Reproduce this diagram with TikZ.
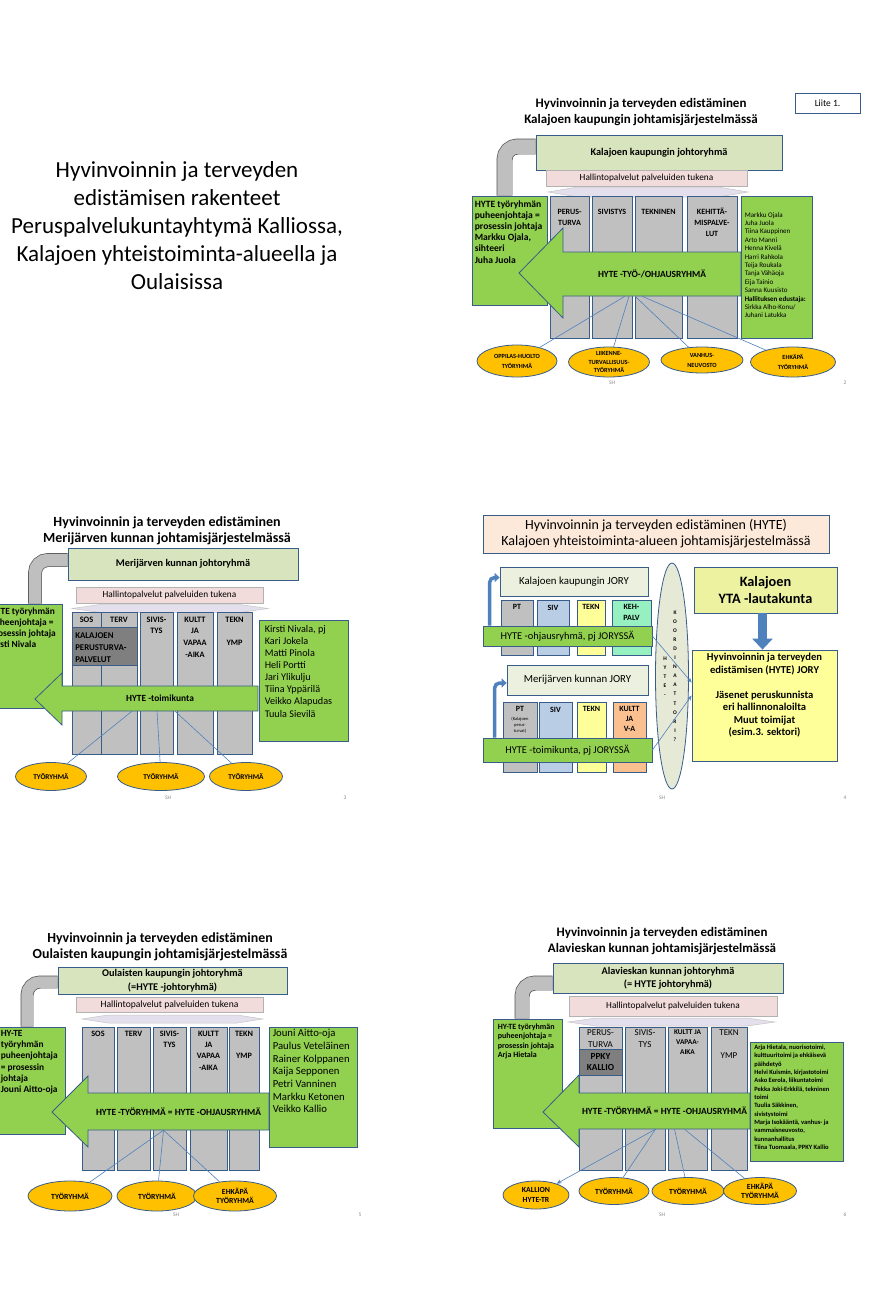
\documentclass[tikz,border=0pt]{standalone}
\usepackage{fontspec}
\setmainfont{Carlito}
\usepackage{tikz}
\usetikzlibrary{arrows.meta, positioning, shapes.geometric}

\definecolor{edge}{HTML}{385D8A}
\definecolor{hygreen}{HTML}{92D050}
\definecolor{jrgreen}{HTML}{D7E4BD}
\definecolor{hallpink}{HTML}{F2DCDB}
\definecolor{colgray}{HTML}{C0C0C0}
\definecolor{darkbox}{HTML}{7F7F7F}
\definecolor{lav}{HTML}{E4DFEC}
\definecolor{ellorange}{HTML}{FFC000}
\definecolor{lineblue}{HTML}{4F81BD}
\definecolor{pipegray}{HTML}{BFBFBF}
\definecolor{peach}{HTML}{FDE9D9}
\definecolor{jorygreen}{HTML}{EBF1DE}
\definecolor{sivblue}{HTML}{B9CDE5}
\definecolor{teknyellow}{HTML}{FFFF99}
\definecolor{kehmint}{HTML}{97F0C0}
\definecolor{kultorange}{HTML}{FAC090}
\definecolor{ytayellow}{HTML}{EDF2A0}
\definecolor{ovalfill}{HTML}{E6E9D6}
\definecolor{footgray}{HTML}{8A8A8A}

\newcommand{\fsize}[2]{\fontsize{#1}{#2}\selectfont}

\begin{document}
\begin{tikzpicture}[
    x=1pt, y=-1pt,
    every node/.style={inner sep=0pt},
    spot/.style args={#1/#2/#3/#4}{at={({(#1+#3)/2},{(#2+#4)/2})}, minimum width={(#3-#1)*1pt}, minimum height={(#4-#2)*1pt}},
    box/.style={rectangle, draw=edge, line width=0.8pt},
    titlesm/.style={font=\fsize{13}{16}\bfseries, align=center},
    jrbox/.style={box, fill=jrgreen, font=\fsize{10.3}{13.5}\bfseries, align=center},
    hallbox/.style={rectangle, draw=gray!60, line width=0.6pt, fill=hallpink, font=\fsize{9.3}{10}},
    hallarrow/.style={fill=lav, draw=gray!45, line width=0.5pt},
    colbox/.style={box, fill=colgray},
    collab/.style={font=\fsize{8}{11}\bfseries, align=center},
    greenbox/.style={box, fill=hygreen},
    leadtext/.style={font=\fsize{9.6}{11.2}\bfseries, align=left},
    bigarrow/.style={fill=hygreen, draw=edge, line width=0.8pt, line join=miter},
    arrowtext/.style={font=\fsize{9.4}{10}\bfseries},
    group/.style={ellipse, draw=edge, fill=ellorange, line width=0.8pt},
    grouptext/.style={font=\fsize{6.3}{10}\bfseries, align=center},
    conn/.style={draw=lineblue, line width=0.6pt},
    pipe/.style={draw=gray!65!black, line width=0.7pt, double=pipegray, rounded corners=13pt},
    bluepipe/.style={draw=lineblue, line width=3.5pt, rounded corners=5pt, -{Triangle[length=5pt, width=9pt]}},
    footer/.style={font=\fsize{5.5}{6}, text=footgray}
]
\path[use as bounding box, fill=white] (0,0) rectangle (874,1303);

% Slide 1
\node[font=\fsize{23}{28}, align=center] (cover) at (177,226) {Hyvinvoinnin ja terveyden\\edistämisen rakenteet\\Peruspalvelukuntayhtymä Kalliossa,\\Kalajoen yhteistoiminta-alueella ja\\Oulaisissa};

% Slide 2
\node[titlesm] (title2) at (641,112) {Hyvinvoinnin ja terveyden edistäminen\\Kalajoen kaupungin johtamisjärjestelmässä};
\node[box, spot=795/93/860/113, font=\fsize{9.5}{10}] (liite) {Liite 1.};
\node[jrbox, spot=536/135/782/170] (jr2) {Kalajoen kaupungin johtoryhmä};
\node[hallbox, spot=546/170/747/186] (hall2) {Hallintopalvelut palveluiden tukena};
\draw[hallarrow] (548,192) -- (578,187) -- (718,187) -- (748,192) -- (718,197) -- (578,197) -- cycle;
\node[colbox, spot=550/196/589/338] (pt2) {};
\node[colbox, spot=592/196/632/338] (siv2) {};
\node[colbox, spot=635/196/682/338] (tekn2) {};
\node[colbox, spot=687/196/737/338] (keh2) {};
\node[collab, below=13.5pt of pt2.north] {PERUS-\\TURVA};
\node[collab, below=13.5pt of siv2.north] {SIVISTYS};
\node[collab, below=13.5pt of tekn2.north] {TEKNINEN};
\node[collab, below=12.5pt of keh2.north] {KEHITTÄ-\\MISPALVE-\\LUT};
\node[greenbox, spot=472/196/547/305] (lead2) {};
\node[leadtext, below right=4.5pt and 3pt of lead2.north west] {HYTE työryhmän\\puheenjohtaja =\\prosessin johtaja\\Markku Ojala,\\sihteeri\\Juha Juola};
\draw[pipe, double distance=14.5pt] ([xshift=-5pt]lead2.north) |- ([yshift=6pt]jr2.west);
\draw[bigarrow] (741,252) -- (563,252) -- (563,228) -- (519,273) -- (563,318) -- (563,296) -- (741,296) -- cycle;
\node[arrowtext, spot=563/252/741/296] (body2) {HYTE -TYÖ-/OHJAUSRYHMÄ};
\node[group, minimum width=80pt, minimum height=32pt, label={[grouptext]center:{OPPILAS-HUOLTO\\TYÖRYHMÄ}}] (op2) at (517,361) {};
\node[group, minimum width=81pt, minimum height=30pt, label={[grouptext, font=\fsize{6.3}{8.5}\bfseries]center:{LIIKENNE-\\TURVALLISUUS-\\TYÖRYHMÄ}}] (lt2) at (609,362) {};
\node[group, minimum width=82pt, minimum height=26pt, label={[grouptext]center:{VANHUS-\\NEUVOSTO}}] (vn2) at (702,360) {};
\node[group, minimum width=85pt, minimum height=30pt, label={[grouptext]center:{EHKÄPÄ\\TYÖRYHMÄ}}] (eh2) at (793,362) {};
\draw[conn] ([xshift=-27pt]body2.south) -- (op2);
\draw[conn] ([xshift=-23pt]body2.south) -- (lt2);
\draw[conn] ([xshift=-17pt]body2.south) -- (vn2);
\draw[conn] ([xshift=-10pt]body2.south) -- (eh2);
\node[greenbox, spot=741/196/812/338] (mem2) {};
\node[align=left, font=\fsize{7}{8.4}, below right=16.5pt and 4pt of mem2.north west] {Markku Ojala\\Juha Juola\\Tiina Kauppinen\\Arto Manni\\Henna Kivelä\\Harri Rahkola\\Teija Roukala\\Tanja Vähäoja\\Eija Tainio\\Sanna Kuusisto\\\textbf{Hallituksen edustaja:}\\Sirkka Alho-Konu/\\Juhani Latukka};
\node[footer] (sh2) at (612,383) {SH};
\node[footer] (no2) at (845,383) {2};

% Slide 3
\node[titlesm, font=\fsize{14}{16}\bfseries] (title3) at (167,531) {Hyvinvoinnin ja terveyden edistäminen\\Merijärven kunnan johtamisjärjestelmässä};
\node[jrbox, spot=68/548/298/580] (jr3) {Merijärven kunnan johtoryhmä};
\node[hallbox, spot=76/587/263/603] (hall3) {Hallintopalvelut palveluiden tukena};
\draw[hallarrow] (72,608.5) -- (100,604.5) -- (240,604.5) -- (268,608.5) -- (240,612.5) -- (100,612.5) -- cycle;
\node[colbox, spot=72/612/101/754] (sos3) {};
\node[colbox, spot=101/612/137/754] (terv3) {};
\node[colbox, spot=140/612/173/754] (siv3) {};
\node[colbox, spot=177/612/213/754] (kult3) {};
\node[colbox, spot=217/612/252/754] (tekn3) {};
\node[box, fill=darkbox, spot=72/627/137/665] (kpp3) {};
\node[collab, font=\fsize{8.8}{12}\bfseries, align=left, below right=5.5pt and 3.5pt of kpp3.north west] {KALAJOEN\\PERUSTURVA-\\PALVELUT};
\node[collab, font=\fsize{8.3}{11.7}\bfseries, below=5pt of sos3.north] {SOS};
\node[collab, font=\fsize{8.3}{11.7}\bfseries, below=5pt of terv3.north] {TERV};
\node[collab, font=\fsize{8.3}{11.7}\bfseries, below=5pt of siv3.north] {SIVIS-\\TYS};
\node[collab, font=\fsize{8.3}{11.7}\bfseries, below=5pt of kult3.north] {KULTT\\JA\\VAPAA\\-AIKA};
\node[collab, font=\fsize{8.3}{11.7}\bfseries, below=5pt of tekn3.north] {TEKN\\[11.7pt]YMP};
\node[greenbox, spot=-20/604/62/708] (lead3) {};
\node[leadtext, font=\fsize{9.4}{11}\bfseries, below right=4.5pt and 10pt of lead3.north west] {HYTE työryhmän\\puheenjohtaja =\\prosessin johtaja\\Kirsti Nivala};
\draw[pipe, double distance=12.5pt] ([xshift=14pt]lead3.north) |- ([yshift=4pt]jr3.west);
\draw[bigarrow] (258,686) -- (62,686) -- (62,673) -- (35,699) -- (62,725) -- (62,711) -- (258,711) -- cycle;
\node[arrowtext, spot=62/686/258/711] (body3) {HYTE -toimikunta};
\node[group, minimum width=71pt, minimum height=28pt, label={[grouptext, font=\fsize{7.3}{9}\bfseries]center:TYÖRYHMÄ}] (tr3a) at (51,776.5) {};
\node[group, minimum width=87pt, minimum height=28pt, label={[grouptext, font=\fsize{7.3}{9}\bfseries]center:TYÖRYHMÄ}] (tr3b) at (161,776.5) {};
\node[group, minimum width=73pt, minimum height=28pt, label={[grouptext, font=\fsize{7.3}{9}\bfseries]center:TYÖRYHMÄ}] (tr3c) at (246,776.5) {};
\draw[conn] ([xshift=-28pt]body3.south) -- (tr3a);
\draw[conn] ([xshift=-3pt]body3.south) -- (tr3b);
\draw[conn] ([xshift=15pt]body3.south) -- (tr3c);
\node[greenbox, spot=259/620/348/741] (mem3) {};
\node[align=left, font=\fsize{10.2}{12.1}, below right=5.5pt and 6pt of mem3.north west] {Kirsti Nivala, pj\\Kari Jokela\\Matti Pinola\\Heli Portti\\Jari Ylikulju\\Tiina Yppärilä\\Veikko Alapudas\\Tuula Sievilä};
\node[footer] (sh3) at (168,798) {SH};
\node[footer] (no3) at (345,798) {3};

% Slide 4
\node[box, fill=peach, spot=483/515/829/553, font=\fsize{14}{16}, align=center] (title4) {Hyvinvoinnin ja terveyden edistäminen (HYTE)\\Kalajoen yhteistoiminta-alueen johtamisjärjestelmässä};
\node[box, fill=jorygreen, spot=500/567/648/596, font=\fsize{10.8}{12}] (jory4a) {Kalajoen kaupungin JORY};
\node[colbox, spot=501/600/533/655] (pt4a) {};
\node[colbox, fill=sivblue, spot=537/600/569/655] (siv4a) {};
\node[colbox, fill=teknyellow, spot=577/600/605/655] (tekn4a) {};
\node[colbox, fill=kehmint, spot=612/600/651/655] (keh4a) {};
\node[collab, below=5pt of pt4a.north] {PT};
\node[collab, below=5pt of siv4a.north] {SIV};
\node[collab, below=5pt of tekn4a.north] {TEKN};
\node[collab, below=5pt of keh4a.north] {KEH-\\PALV};
\node[greenbox, spot=483/626/652/646, font=\fsize{10.4}{12}] (bar4a) {HYTE -ohjausryhmä, pj JORYSSÄ};
\draw[bluepipe] ([xshift=7pt]bar4a.north west) |- ([yshift=4pt]jory4a.west);
\node[box, fill=jorygreen, spot=507/665/648/695, font=\fsize{10.8}{12}] (jory4b) {Merijärven kunnan JORY};
\node[colbox, spot=503/702/537/772] (pt4b) {};
\node[colbox, fill=sivblue, spot=539/702/572/772] (siv4b) {};
\node[colbox, fill=teknyellow, spot=577/702/606/772] (tekn4b) {};
\node[colbox, fill=kultorange, spot=613/702/646/772] (kult4b) {};
\node[collab, below=5pt of pt4b.north] {PT};
\node[font=\fsize{4.5}{6}, align=center, below=15pt of pt4b.north] {(Kalajoen\\perus-\\turvat)};
\node[collab, below=5pt of siv4b.north] {SIV};
\node[collab, below=5pt of tekn4b.north] {TEKN};
\node[collab, font=\fsize{8}{10}\bfseries, below=5pt of kult4b.north] {KULTT\\JA\\V-A};
\node[greenbox, spot=483/738/652/762, font=\fsize{10.4}{12}] (bar4b) {HYTE -toimikunta, pj JORYSSÄ};
\draw[bluepipe] ([xshift=12pt]bar4b.north west) |- ([yshift=-3pt]jory4b.west);
\node[ellipse, draw=edge, fill=ovalfill, line width=0.8pt, minimum width=33pt, minimum height=226pt] (coord4) at (672,676) {};
\node[font=\fsize{5.5}{9.1}\bfseries, align=center] (koord4) at (675,676) {K\\O\\O\\R\\D\\I\\N\\A\\A\\T\\T\\O\\R\\I\\?};
\node[font=\fsize{5.5}{9.1}\bfseries, align=center] (hyte4) at (665,677) {H\\Y\\T\\E\\-};
\node[box, fill=ytayellow, spot=694/567/837/613, font=\fsize{14.3}{17}\bfseries, align=center] (yta4) {Kalajoen\\YTA -lautakunta};
\node[box, fill=teknyellow, spot=692/650/837/761] (jory4c) {};
\node[font=\fsize{10.6}{12.5}\bfseries, align=center, below=3.5pt of jory4c.north] (jorytext4) {Hyvinvoinnin ja terveyden\\edistämisen (HYTE) JORY\\[12.5pt]Jäsenet peruskunnista\\eri hallinnonaloilta\\Muut toimijat\\(esim.3. sektori)};
\draw[line width=9pt, draw=lineblue, -{Triangle[length=11pt, width=20pt]}] ([xshift=-3pt]yta4.south) -- ([xshift=-2pt]jory4c.north);
\draw[conn, -{Stealth[length=5pt, width=4pt]}] (bar4a.east) -- ([yshift=23pt]jory4c.west);
\draw[conn, -{Stealth[length=5pt, width=4pt]}] (bar4b.east) -- ([yshift=10pt]jory4c.west);
\node[footer] (sh4) at (662,798) {SH};
\node[footer] (no4) at (845,798) {4};

% Slide 5
\node[titlesm, font=\fsize{13.9}{16}\bfseries] (title5) at (160,947) {Hyvinvoinnin ja terveyden edistäminen\\Oulaisten kaupungin johtamisjärjestelmässä};
\node[jrbox, spot=58/967/287/994] (jr5) {Oulaisten kaupungin johtoryhmä\\(=HYTE -johtoryhmä)};
\node[hallbox, spot=76/997/263/1012, font=\fsize{9.6}{10}] (hall5) {Hallintopalvelut palveluiden tukena};
\draw[hallarrow] (82,1019) -- (108,1015) -- (237,1015) -- (263,1019) -- (237,1023) -- (108,1023) -- cycle;
\node[colbox, spot=82/1027/114/1170] (sos5) {};
\node[colbox, spot=117/1027/150/1170] (terv5) {};
\node[colbox, spot=153/1027/186/1170] (siv5) {};
\node[colbox, spot=190/1027/227/1170] (kult5) {};
\node[colbox, spot=229/1027/259/1170] (tekn5) {};
\node[collab, font=\fsize{8.2}{11.3}\bfseries, below=4pt of sos5.north] {SOS};
\node[collab, font=\fsize{8.2}{11.3}\bfseries, below=4pt of terv5.north] {TERV};
\node[collab, font=\fsize{8.2}{11.3}\bfseries, below=4pt of siv5.north] {SIVIS-\\TYS};
\node[collab, font=\fsize{8.2}{11.3}\bfseries, below=4pt of kult5.north] {KULTT\\JA\\VAPAA\\-AIKA};
\node[collab, font=\fsize{8.2}{11.3}\bfseries, below=4pt of tekn5.north] {TEKN\\[11.3pt]YMP};
\node[greenbox, spot=-20/1027/65/1134] (lead5) {};
\node[leadtext, font=\fsize{9.4}{11.2}\bfseries, below right=3.5pt and 21pt of lead5.north west] {HY-TE\\työryhmän\\puheenjohtaja\\= prosessin\\johtaja\\Jouni Aitto-oja};
\draw[pipe, double distance=11.5pt] ([xshift=4.5pt]lead5.north) |- ([yshift=-1.5pt]jr5.west);
\draw[bigarrow] (269,1093) -- (88,1093) -- (88,1076) -- (52,1112) -- (88,1147) -- (88,1130) -- (269,1130) -- cycle;
\node[arrowtext, spot=88/1093/269/1130] (body5) {HYTE -TYÖRYHMÄ = HYTE -OHJAUSRYHMÄ};
\node[group, minimum width=84pt, minimum height=30pt, label={[grouptext, font=\fsize{7.8}{9}\bfseries]center:TYÖRYHMÄ}] (tr5a) at (70,1196) {};
\node[group, minimum width=80pt, minimum height=30pt, label={[grouptext, font=\fsize{7.8}{9}\bfseries]center:TYÖRYHMÄ}] (tr5b) at (157,1196) {};
\node[group, minimum width=83pt, minimum height=30pt, label={[grouptext, font=\fsize{7.8}{9}\bfseries]center:{EHKÄPÄ\\TYÖRYHMÄ}}] (tr5c) at (235,1196) {};
\draw[conn] ([xshift=-15pt]body5.south) -- (tr5a);
\draw[conn] ([xshift=-15pt]body5.south) -- (tr5b);
\draw[conn] ([xshift=-15pt]body5.south) -- (tr5c);
\node[greenbox, spot=269/1027/357/1147] (mem5) {};
\node[align=left, font=\fsize{10.7}{12.7}, below right=2.5pt and 4pt of mem5.north west] {Jouni Aitto-oja\\Paulus Veteläinen\\Rainer Kolppanen\\Kaija Sepponen\\Petri Vanninen\\Markku Ketonen\\Veikko Kallio};
\node[footer] (sh5) at (176,1215) {SH};
\node[footer] (no5) at (360,1215) {5};

% Slide 6
\node[titlesm] (title6) at (662,941) {Hyvinvoinnin ja terveyden edistäminen\\Alavieskan kunnan johtamisjärjestelmässä};
\node[jrbox, spot=553/963/783/993] (jr6) {Alavieskan kunnan johtoryhmä\\(= HYTE johtoryhmä)};
\node[hallbox, spot=569/996/777/1016] (hall6) {Hallintopalvelut palveluiden tukena};
\draw[hallarrow] (568,1022) -- (596,1018) -- (747,1018) -- (775,1022) -- (747,1026) -- (596,1026) -- cycle;
\node[colbox, spot=579/1027/622/1170] (pt6) {};
\node[colbox, spot=625/1027/665/1170] (siv6) {};
\node[colbox, spot=668/1027/707/1170] (kult6) {};
\node[colbox, spot=711/1027/747/1170] (tekn6) {};
\node[box, fill=darkbox, spot=579/1049/622/1075, font=\fsize{9.3}{10.5}\bfseries, align=center] (ppky6) {PPKY\\KALLIO};
\node[collab, font=\fsize{9}{12.5}, below=2.5pt of pt6.north] {PERUS-\\TURVA};
\node[collab, font=\fsize{9}{12.5}, below=2.5pt of siv6.north] {SIVIS-\\TYS};
\node[collab, font=\fsize{7.3}{10}\bfseries, below=2.5pt of kult6.north] {KULTT JA\\VAPAA-\\AIKA};
\node[collab, font=\fsize{9}{12.5}, below=2.5pt of tekn6.north] {TEKN\\[10.5pt]YMP};
\node[greenbox, spot=493/1019/562/1128] (lead6) {};
\node[leadtext, font=\fsize{8}{9.5}\bfseries, below right=5pt and 5pt of lead6.north west] {HY-TE työryhmän\\puheenjohtaja =\\prosessin johtaja\\Arja Hietala};
\draw[pipe, double distance=13.5pt] ([xshift=-5.5pt]lead6.north) |- ([yshift=-5pt]jr6.west);
\draw[bigarrow] (750,1093) -- (579,1093) -- (579,1075) -- (543,1112) -- (579,1147) -- (579,1129) -- (750,1129) -- cycle;
\node[arrowtext, spot=579/1093/750/1129] (body6) {HYTE -TYÖRYHMÄ = HYTE -OHJAUSRYHMÄ};
\node[group, minimum width=66pt, minimum height=28pt, label={[grouptext, font=\fsize{7.8}{9.5}\bfseries]center:{KALLION\\HYTE-TR}}] (tr6a) at (536,1195) {};
\node[group, minimum width=70pt, minimum height=27pt, label={[grouptext, font=\fsize{7.8}{9}\bfseries]center:TYÖRYHMÄ}] (tr6b) at (614,1191) {};
\node[group, minimum width=72pt, minimum height=27pt, label={[grouptext, font=\fsize{7.8}{9}\bfseries]center:TYÖRYHMÄ}] (tr6c) at (688,1191) {};
\node[group, minimum width=73pt, minimum height=27pt, label={[grouptext, font=\fsize{7.8}{9}\bfseries]center:{EHKÄPÄ\\TYÖRYHMÄ}}] (tr6d) at (760,1191) {};
\draw[conn, -{Stealth[length=5pt, width=4pt]}] ([xshift=-9pt]body6.south) -- (tr6a);
\draw[conn] ([xshift=-9pt]body6.south) -- (tr6b);
\draw[conn] ([xshift=10pt]body6.south) -- (tr6c);
\draw[conn] ([xshift=20pt]body6.south) -- (tr6d);
\node[greenbox, spot=750/1042/843/1161] (mem6) {};
\node[align=left, font=\fsize{6.5}{8.35}\bfseries, below right=3pt and 4.5pt of mem6.north west] {Arja Hietala, nuorisotoimi,\\kulttuuritoimi ja ehkäisevä\\päihdetyö\\Helvi Kuismin, kirjastotoimi\\Asko Eerola, liikuntatoimi\\Pekka Joki-Erkkilä, tekninen\\toimi\\Tuulia Säkkinen,\\sivistystoimi\\Marja Isokääntä, vanhus- ja\\vammaisneuvosto,\\kunnanhallitus\\Tiina Tuomaala, PPKY Kallio};
\node[footer] (sh6) at (662,1215) {SH};
\node[footer] (no6) at (845,1215) {6};

\end{tikzpicture}
\end{document}
